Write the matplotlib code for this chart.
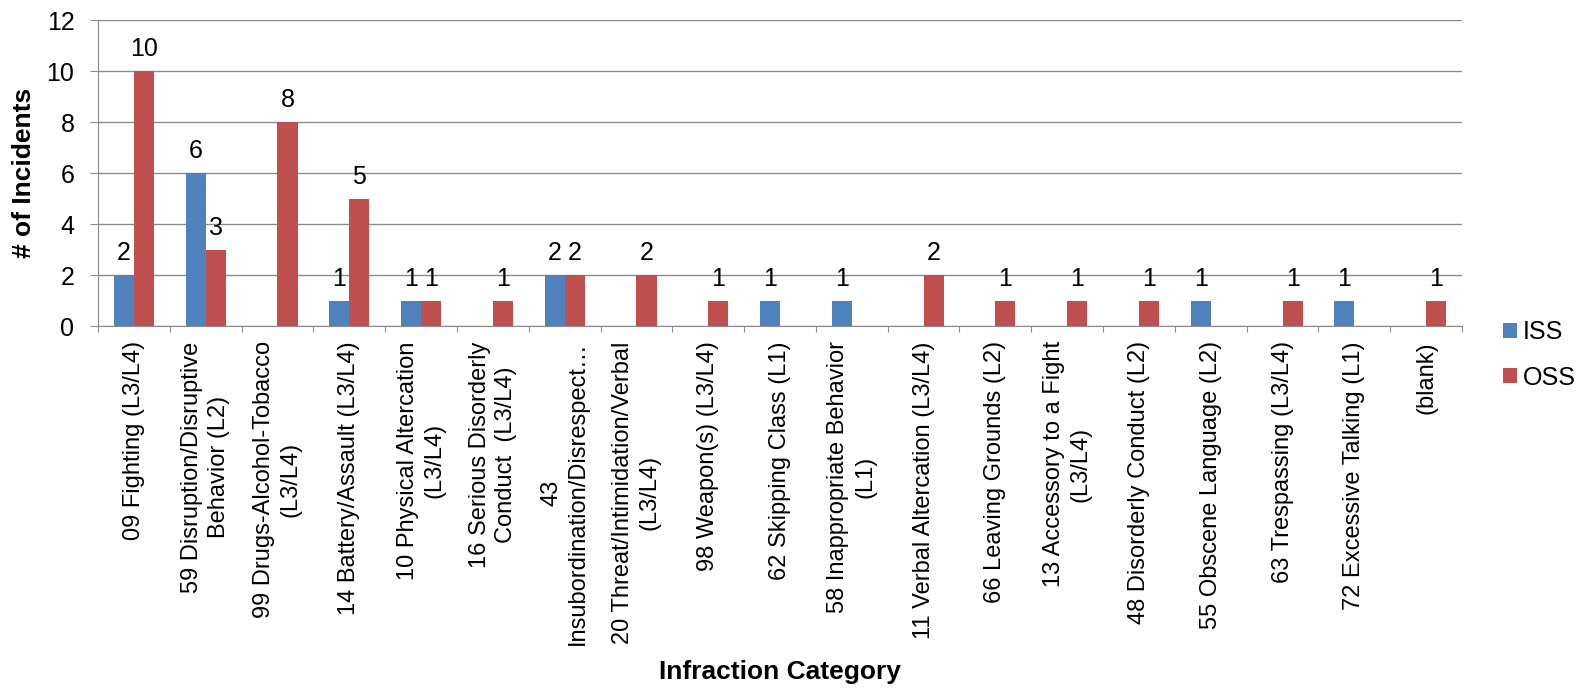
import matplotlib
matplotlib.use("Agg")
import matplotlib.pyplot as plt
import numpy as np

plt.rcParams['font.family'] = ['Liberation Sans', 'DejaVu Sans']

categories = [
    "09 Fighting (L3/L4)",
    "59 Disruption/Disruptive\nBehavior (L2)",
    "99 Drugs-Alcohol-Tobacco\n(L3/L4)",
    "14 Battery/Assault (L3/L4)",
    "10 Physical Altercation\n(L3/L4)",
    "16 Serious Disorderly\nConduct  (L3/L4)",
    "43\nInsubordination/Disrespect\u2026",
    "20 Threat/Intimidation/Verbal\n(L3/L4)",
    "98 Weapon(s) (L3/L4)",
    "62 Skipping Class (L1)",
    "58 Inappropriate Behavior\n(L1)",
    "11 Verbal Altercation (L3/L4)",
    "66 Leaving Grounds (L2)",
    "13 Accessory to a Fight\n(L3/L4)",
    "48 Disorderly Conduct (L2)",
    "55 Obscene Language (L2)",
    "63 Trespassing (L3/L4)",
    "72 Excessive Talking (L1)",
    "(blank)",
]
iss = [2, 6, 0, 1, 1, 0, 2, 0, 0, 1, 1, 0, 0, 0, 0, 1, 0, 1, 0]
oss = [10, 3, 8, 5, 1, 1, 2, 2, 1, 0, 0, 2, 1, 1, 1, 0, 1, 0, 1]
series_names = ["ISS", "OSS"]
colors = ["#4F81BD", "#C0504D"]
y_ticks = [0, 2, 4, 6, 8, 10, 12]

W, H = 1579, 689
fig = plt.figure(figsize=(W / 100, H / 100), dpi=100)
ax = fig.add_axes([98 / W, 1 - 326 / H, (1462 - 98) / W, (326 - 20) / H])

x = np.arange(len(categories))
w = 0.28
b1 = ax.bar(x - w / 2, iss, w, color=colors[0], label=series_names[0], zorder=3)
b2 = ax.bar(x + w / 2, oss, w, color=colors[1], label=series_names[1], zorder=3)

for bars, vals in ((b1, iss), (b2, oss)):
    for r, v in zip(bars, vals):
        if v:
            ax.annotate(str(v), (r.get_x() + r.get_width() / 2, v),
                        xytext=(0, 7), textcoords="offset points",
                        ha="center", va="bottom", fontsize=18)

ax.set_xlim(-0.5, len(categories) - 0.5)
ax.set_ylim(0, 12)
ax.set_yticks(y_ticks)
ax.tick_params(axis='y', labelsize=18, length=6, color='#8c8c8c', pad=11)
ax.yaxis.grid(True, color='#8c8c8c', linewidth=1, zorder=0)
ax.set_axisbelow(True)

ax.set_xticks(np.arange(len(categories) + 1) - 0.5, minor=False)
ax.set_xticklabels([])
ax.tick_params(axis='x', which='major', length=4, color='#8c8c8c')
ax.set_xticks(x, minor=True)
ax.set_xticklabels(categories, minor=True, rotation=90, fontsize=17,
                   ha='center', va='top', multialignment='center',
                   linespacing=1.27)
ax.tick_params(axis='x', which='minor', length=0, pad=11)

for s in ("top", "right"):
    ax.spines[s].set_visible(False)
for s in ("left", "bottom"):
    ax.spines[s].set_color('#8c8c8c')

fig.text(24 / W, 1 - 173 / H, "# of Incidents", fontsize=19, fontweight='bold',
         rotation=90, ha='center', va='center')
fig.text(780 / W, 1 - 672 / H, "Infraction Category", fontsize=19,
         fontweight='bold', ha='center', va='center')

fig.legend(handles=[b1, b2], labels=series_names, loc='center left',
           bbox_to_anchor=(1493 / W, 1 - 355 / H), borderaxespad=0,
           frameon=False, fontsize=18,
           handlelength=0.55, handleheight=0.55, handletextpad=0.25,
           labelspacing=0.85)

fig.savefig("out.png", dpi=100)
